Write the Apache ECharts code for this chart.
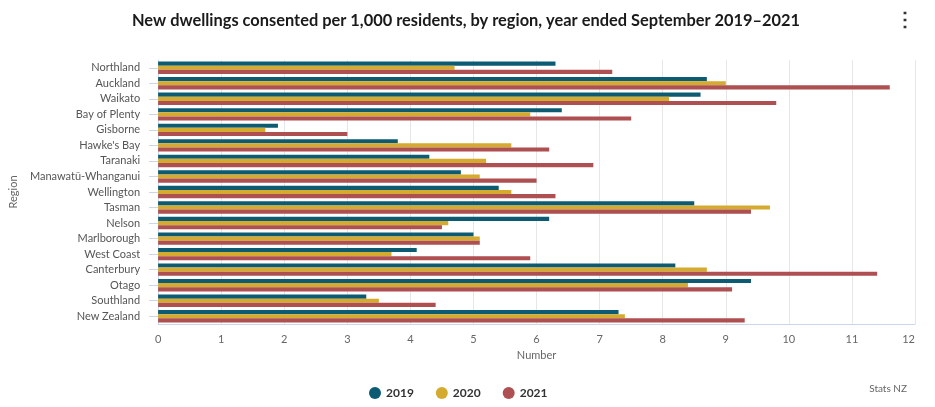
<!DOCTYPE html>
<html>
<head>
<meta charset="utf-8">
<script src="https://cdn.jsdelivr.net/npm/echarts@6/dist/echarts.min.js"></script>
<style>
html,body{margin:0;padding:0;background:#fff;}
#chart{width:935px;height:407px;}
</style>
</head>
<body>
<div id="chart"></div>
<script>
var regions = ["Northland","Auckland","Waikato","Bay of Plenty","Gisborne","Hawke's Bay","Taranaki","Manawatū-Whanganui","Wellington","Tasman","Nelson","Marlborough","West Coast","Canterbury","Otago","Southland","New Zealand"];
var y2019 = [6.3,8.7,8.6,6.4,1.9,3.8,4.3,4.8,5.4,8.5,6.2,5.0,4.1,8.2,9.4,3.3,7.3];
var y2020 = [4.7,9.0,8.1,5.9,1.7,5.6,5.2,5.1,5.6,9.7,4.6,5.1,3.7,8.7,8.4,3.5,7.4];
var y2021 = [7.2,11.6,9.8,7.5,3.0,6.2,6.9,6.0,6.3,9.4,4.5,5.1,5.9,11.4,9.1,4.4,9.3];
var seriesNames = ["2019","2020","2021"];
var colors = ["#0d5b73","#d4aa2f","#ae4f51"];
var xTicks = [0,1,2,3,4,5,6,7,8,9,10,11,12];

var FONT = "Lato, 'Open Sans', sans-serif";
var chart = echarts.init(document.getElementById('chart'), null, {renderer:'canvas'});
var data = [y2019, y2020, y2021];
chart.setOption({
  animation:false,
  textStyle:{fontFamily:FONT},
  title:{
    text:"New dwellings consented per 1,000 residents, by region, year ended September 2019–2021",
    left:127, top:8,
    textStyle:{fontSize:16.4, fontWeight:'bold', color:'#1a1a1a', fontFamily:FONT}
  },
  graphic:[
    {type:'text', right:20, top:10, style:{text:'⋮', font:'bold 20px '+FONT, fill:'#333'}},
    {type:'text', right:28, top:384, style:{text:'Stats NZ', font:'10px '+FONT, fill:'#666'}}
  ],
  legend:{
    top:382, left:364,
    icon:'circle', itemWidth:12, itemHeight:12, itemGap:22,
    textStyle:{fontSize:12, fontWeight:'bold', color:'#333', fontFamily:FONT},
    data:seriesNames
  },
  grid:{left:156, right:20, top:60, bottom:83, containLabel:false},
  xAxis:{
    type:'value', min:0, max:12, interval:1,
    name:'Number', nameLocation:'middle', nameGap:24,
    nameTextStyle:{fontSize:11, color:'#666', fontFamily:FONT},
    axisLine:{show:true, lineStyle:{color:'#ccd6eb'}},
    axisTick:{show:false},
    axisLabel:{fontSize:11, color:'#666', margin:10, fontFamily:FONT, alignMaxLabel:'right'},
    splitLine:{show:true, lineStyle:{color:'#e6e6e6', width:1}}
  },
  yAxis:{
    type:'category', data:regions, inverse:true,
    name:'Region', nameLocation:'middle', nameGap:137, nameRotate:90,
    nameTextStyle:{fontSize:11, color:'#666', fontFamily:FONT},
    axisLine:{show:true, lineStyle:{color:'#ccd6eb'}},
    axisTick:{show:true, alignWithLabel:true, length:9, lineStyle:{color:'#ccd6eb'}},
    axisLabel:{fontSize:11, color:'#555', margin:18, fontFamily:FONT},
    splitLine:{show:false}
  },
  series: seriesNames.map(function(n,i){
    return {
      name:n, type:'bar', data:data[i],
      itemStyle:{color:colors[i]},
      barGap:'0%', barCategoryGap:'20%'
    };
  })
});
</script>
</body>
</html>
